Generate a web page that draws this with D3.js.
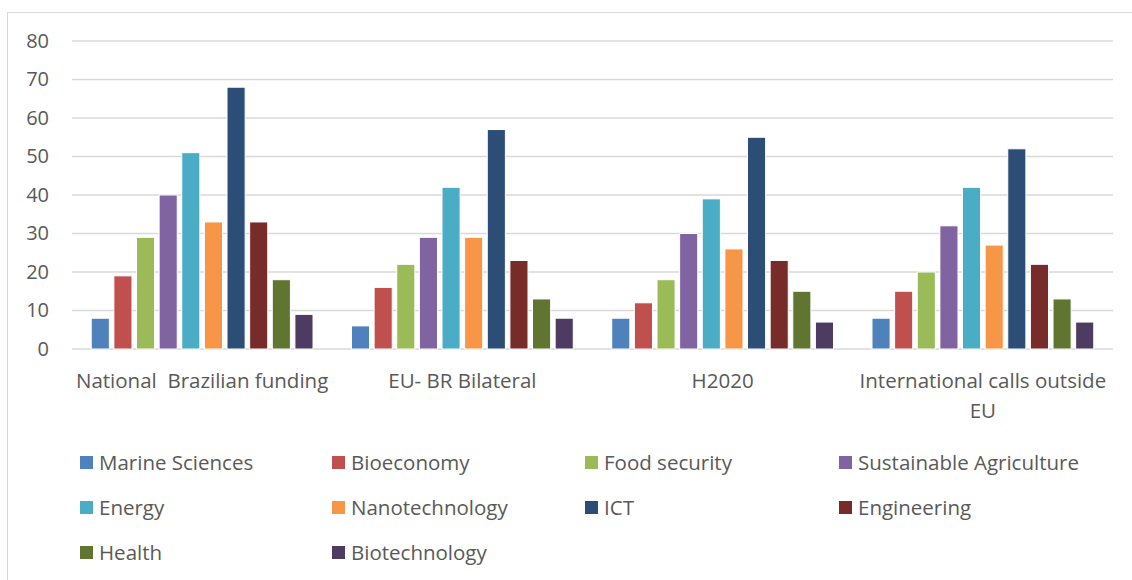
<!DOCTYPE html>
<html><head><meta charset="utf-8">
<script src="https://cdn.jsdelivr.net/npm/d3@7"></script>
<style>html,body{margin:0;padding:0;background:#fff;overflow:hidden}</style>
</head><body>
<svg id="chart" width="1132" height="580"></svg>
<script>
const categories = ["National  Brazilian funding", "EU- BR Bilateral", "H2020", "International calls outside EU"];
const seriesNames = ["Marine Sciences","Bioeconomy","Food security","Sustainable Agriculture","Energy","Nanotechnology","ICT","Engineering","Health","Biotechnology"];
const marineSciences = [8, 6, 8, 8];
const bioeconomy = [19, 16, 12, 15];
const foodSecurity = [29, 22, 18, 20];
const sustainableAgriculture = [40, 29, 30, 32];
const energy = [51, 42, 39, 42];
const nanotechnology = [33, 29, 26, 27];
const ict = [68, 57, 55, 52];
const engineering = [33, 23, 23, 22];
const health = [18, 13, 15, 13];
const biotechnology = [9, 8, 7, 7];
const yTicks = [0, 10, 20, 30, 40, 50, 60, 70, 80];
const colors = ["#4F81BD","#C0504D","#9BBB59","#8064A2","#4BACC6","#F79646","#2C4D75","#772C2A","#5F7530","#4D3B62"];

(function () {
const seriesValues = [marineSciences, bioeconomy, foodSecurity, sustainableAgriculture, energy, nanotechnology, ict, engineering, health, biotechnology];
const svg = d3.select("#chart");
const font = "'Open Sans', 'Noto Sans', sans-serif";
const textColor = "#595959";

svg.append("rect").attr("x", 7.5).attr("y", 12.5).attr("width", 1200).attr("height", 700)
  .attr("fill", "none").attr("stroke", "#d9d9d9").attr("stroke-width", 1);

const pLeft = 72, pRight = 1113, pTop = 41, pBottom = 349;
const x0 = d3.scaleBand().domain(categories).range([pLeft, pRight]).paddingInner(0).paddingOuter(0);
const x1 = d3.scaleBand().domain(seriesNames).range([0, x0.bandwidth()]).paddingInner(0.2).paddingOuter(0.85);
const y = d3.scaleLinear().domain([0, 80]).range([pBottom, pTop]);

svg.append("g").selectAll("line").data(yTicks).join("line")
  .attr("x1", pLeft).attr("x2", pRight)
  .attr("y1", d => y(d)).attr("y2", d => y(d))
  .attr("stroke", "#d9d9d9").attr("stroke-width", 1.5);

const yAxis = d3.axisLeft(y).tickValues(yTicks).tickSize(0).tickPadding(0);
const ya = svg.append("g").attr("transform", `translate(49,0)`).call(yAxis);
ya.select(".domain").remove();
ya.selectAll("text").attr("font-family", font).attr("font-size", 20).attr("fill", textColor);

const groups = svg.append("g").selectAll("g").data(categories).join("g")
  .attr("transform", d => `translate(${x0(d)},0)`);
groups.selectAll("rect").data((c, ci) => seriesNames.map((s, si) => ({s, si, v: seriesValues[si][ci]})))
  .join("rect")
  .attr("x", d => x1(d.s))
  .attr("width", x1.bandwidth())
  .attr("y", d => y(d.v))
  .attr("height", d => y(0) - y(d.v))
  .attr("fill", d => colors[d.si])
  .attr("stroke", "#fff").attr("stroke-width", 1);

const catLines = [["National  Brazilian funding"], ["EU- BR Bilateral"], ["H2020"], ["International calls outside", "EU"]];
categories.forEach((c, i) => {
  const t = svg.append("text").attr("x", x0(c) + x0.bandwidth() / 2).attr("y", 388)
    .attr("text-anchor", "middle").attr("font-family", font).attr("font-size", 20.5)
    .attr("fill", textColor).style("white-space", "pre");
  catLines[i].forEach((ln, j) => {
    t.append("tspan").attr("x", x0(c) + x0.bandwidth() / 2).attr("dy", j === 0 ? 0 : 30).text(ln);
  });
});

const legendCols = [80, 332, 585, 839];
const legendRows = [463, 508, 553];
const lg = svg.append("g");
seriesNames.forEach((s, i) => {
  const cx = legendCols[i % 4], cy = legendRows[Math.floor(i / 4)];
  lg.append("rect").attr("x", cx).attr("y", cy - 7).attr("width", 13).attr("height", 13).attr("fill", colors[i]);
  lg.append("text").attr("x", cx + 19).attr("y", cy + 7).attr("font-family", font).attr("font-size", 20.5)
    .attr("fill", textColor).text(s);
});
})();
</script>
</body></html>
